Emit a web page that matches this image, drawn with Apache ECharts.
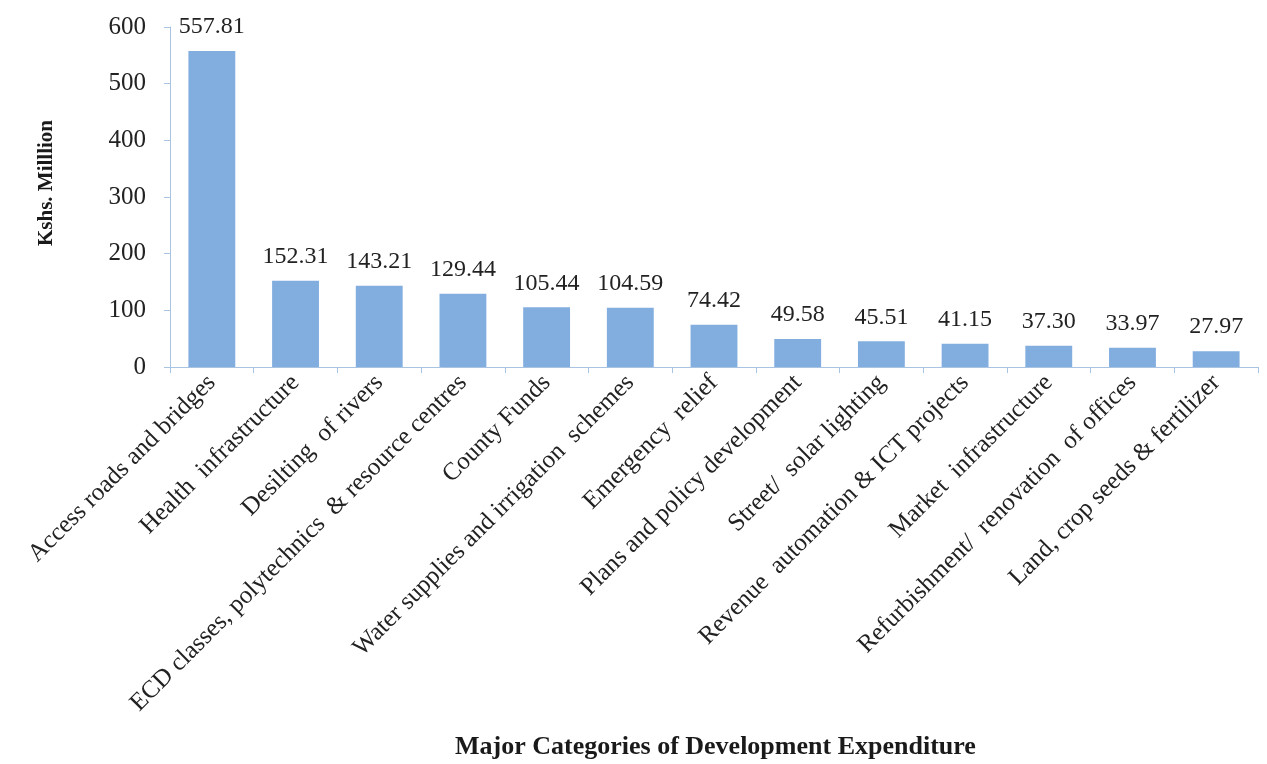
<!DOCTYPE html>
<html>
<head>
<meta charset="utf-8">
<script src="https://cdn.jsdelivr.net/npm/echarts@6/dist/echarts.min.js"></script>
<style>
html,body{margin:0;padding:0;background:#fff;}
#chart{width:1267px;height:764px;}
</style>
</head>
<body>
<div id="chart"></div>
<script>
const categories = [
  "Access roads and bridges",
  "Health  infrastructure",
  "Desilting  of rivers",
  "ECD classes, polytechnics  & resource centres",
  "County Funds",
  "Water supplies and irrigation  schemes",
  "Emergency  relief",
  "Plans and policy development",
  "Street/  solar lighting",
  "Revenue  automation & ICT projects",
  "Market  infrastructure",
  "Refurbishment/  renovation  of offices",
  "Land, crop seeds & fertilizer"
];
const values = [557.81, 152.31, 143.21, 129.44, 105.44, 104.59, 74.42, 49.58, 45.51, 41.15, 37.30, 33.97, 27.97];
const yTicks = [0, 100, 200, 300, 400, 500, 600];
const yTitle = "Kshs. Milllion";
const xTitle = "Major Categories of Development Expenditure";

const serif = "'Liberation Serif', 'DejaVu Serif', serif";
const chart = echarts.init(document.getElementById('chart'));
chart.setOption({
  animation: false,
  backgroundColor: '#ffffff',
  grid: {left: 170, right: 9, top: 27, bottom: 397, containLabel: false},
  xAxis: {
    type: 'category',
    data: categories,
    axisLine: {lineStyle: {color: '#A9C3E3', width: 1}},
    axisTick: {show: true, alignWithLabel: false, length: 6, lineStyle: {color: '#A9C3E3'}},
    axisLabel: {rotate: 45, interval: 0, margin: 12, color: '#222', fontFamily: serif, fontSize: 25}
  },
  yAxis: {
    type: 'value',
    min: yTicks[0],
    max: yTicks[yTicks.length - 1],
    interval: 100,
    axisLine: {show: true, lineStyle: {color: '#A9C3E3', width: 1}},
    axisTick: {show: true, length: 6, lineStyle: {color: '#A9C3E3'}},
    splitLine: {show: false},
    axisLabel: {color: '#222', fontFamily: serif, fontSize: 25, margin: 24}
  },
  graphic: [
    {type: 'text', left: 455, top: 734, style: {text: xTitle, font: "bold 26px " + serif, fill: '#1a1a1a'}},
    {type: 'text', x: 36, y: 246, rotation: Math.PI / 2,
     style: {text: yTitle, font: "bold 21px " + serif, fill: '#1a1a1a', textAlign: 'left', textVerticalAlign: 'top'}}
  ],
  series: [{
    type: 'bar',
    data: values,
    barWidth: '56%',
    itemStyle: {color: '#82AEDF'},
    label: {show: true, position: 'top', distance: 12, color: '#222', fontFamily: serif, fontSize: 24,
      formatter: p => p.value.toFixed(2)}
  }]
});
</script>
</body>
</html>
